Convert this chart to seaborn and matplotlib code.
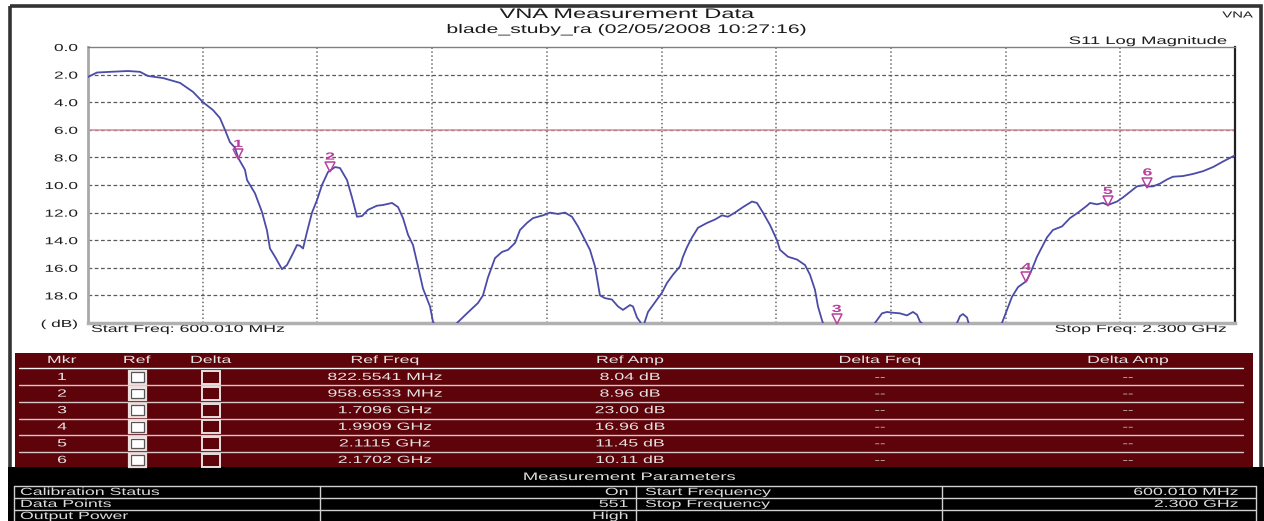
import matplotlib
matplotlib.use("Agg")
import matplotlib.pyplot as plt
import matplotlib.transforms as mtransforms
from matplotlib import patheffects as pe
from matplotlib.patches import Rectangle
import seaborn as sns

# ---------------- data ----------------
freq_mhz = [600.0, 613.3, 632.6, 659.3, 677.1, 688.9, 711.2, 736.4, 755.6, 770.4,
            785.3, 795.6, 803.0, 810.4, 817.9, 822.6, 832.7, 835.7, 847.5, 857.9,
            865.3, 869.7, 877.2, 887.5, 894.9, 902.3, 909.8, 914.2, 918.7, 924.6,
            932.0, 939.4, 946.8, 955.7, 958.7, 966.1, 973.5, 983.9, 991.3, 998.7,
            1006.1, 1015.0, 1028.3, 1037.2, 1050.6, 1059.5, 1066.9, 1074.3, 1081.7, 1089.1,
            1096.5, 1106.9, 1111.3, 1121.7, 1136.5, 1146.9, 1161.7, 1178.0, 1185.4, 1192.8,
            1203.2, 1213.6, 1222.5, 1232.9, 1240.3, 1250.6, 1259.5, 1274.4, 1284.7, 1296.6,
            1306.9, 1317.3, 1326.2, 1336.6, 1344.0, 1351.4, 1358.8, 1366.2, 1376.6, 1385.5,
            1392.9, 1403.3, 1407.7, 1413.7, 1418.1, 1422.6, 1430.0, 1440.3, 1450.7, 1458.1,
            1467.0, 1477.4, 1481.8, 1487.8, 1495.2, 1504.1, 1517.4, 1529.3, 1539.7, 1548.5,
            1558.9, 1570.8, 1584.1, 1591.5, 1600.4, 1610.8, 1621.2, 1625.6, 1637.5, 1650.8,
            1662.7, 1670.1, 1677.5, 1681.9, 1687.9, 1699.7, 1709.6, 1729.4, 1751.6, 1766.4,
            1776.8, 1784.2, 1791.6, 1803.5, 1813.8, 1822.7, 1828.7, 1833.1, 1855.3, 1877.6,
            1888.0, 1892.4, 1896.8, 1902.8, 1905.7, 1929.5, 1954.6, 1962.1, 1969.5, 1978.4,
            1990.9, 1999.1, 2006.5, 2013.9, 2021.3, 2030.2, 2043.6, 2055.4, 2067.3, 2080.6,
            2085.1, 2095.5, 2104.3, 2111.5, 2125.1, 2134.0, 2144.4, 2154.7, 2166.6, 2170.2,
            2178.4, 2188.8, 2199.2, 2208.0, 2222.9, 2237.7, 2252.5, 2267.4, 2282.2, 2300.0]

s11_db = [2.17, 1.85, 1.80, 1.74, 1.80, 2.10, 2.25, 2.60, 3.25, 4.00,
          4.57, 5.15, 6.00, 6.90, 7.30, 8.04, 8.90, 9.64, 10.6, 11.96,
          13.3, 14.6, 15.2, 16.1, 15.8, 15.1, 14.35, 14.4, 14.6, 13.4,
          12.0, 11.1, 10.0, 9.06, 8.96, 8.70, 8.77, 9.64, 10.9, 12.3,
          12.25, 11.8, 11.5, 11.45, 11.3, 11.6, 12.4, 13.6, 14.35, 15.9,
          17.5, 18.8, 19.9, 20.8, 20.6, 20.0, 19.3, 18.55, 18.0, 16.7,
          15.3, 14.85, 14.7, 14.2, 13.26, 12.75, 12.4, 12.2, 12.0, 12.1,
          12.0, 12.3, 13.0, 14.0, 14.7, 15.9, 18.0, 18.2, 18.3, 18.8,
          19.05, 18.7, 18.8, 19.6, 19.9, 20.3, 19.2, 18.5, 17.8, 17.1,
          16.5, 15.9, 15.2, 14.5, 13.8, 13.1, 12.75, 12.5, 12.2, 12.3,
          12.0, 11.6, 11.2, 11.3, 12.0, 12.9, 14.0, 14.7, 15.2, 15.4,
          15.8, 16.5, 17.6, 18.8, 19.8, 21.5, 23.0, 22.0, 20.8, 20.0,
          19.3, 19.2, 19.25, 19.3, 19.45, 19.2, 19.4, 19.9, 20.8, 20.5,
          20.0, 19.5, 19.35, 19.6, 20.1, 21.0, 20.0, 19.05, 18.1, 17.4,
          16.96, 16.1, 15.2, 14.5, 13.8, 13.26, 13.0, 12.4, 12.0, 11.5,
          11.3, 11.4, 11.3, 11.45, 11.2, 10.9, 10.5, 10.1, 10.0, 10.11,
          10.1, 9.9, 9.6, 9.4, 9.35, 9.2, 9.0, 8.7, 8.3, 7.85]

start_freq_mhz = 600.010
stop_freq_mhz = 2300.0
ref_line_db = 6.0
y_tick_values = [0, 2, 4, 6, 8, 10, 12, 14, 16, 18, 20]
y_tick_labels = ["0.0", "2.0", "4.0", "6.0", "8.0", "10.0", "12.0", "14.0",
                 "16.0", "18.0", "( dB)"]

marker_ids = ["1", "2", "3", "4", "5", "6"]
marker_freq_mhz = [822.5541, 958.6533, 1709.6, 1990.9, 2111.5, 2170.2]
marker_freq_text = ["822.5541 MHz", "958.6533 MHz", "1.7096 GHz", "1.9909 GHz",
                    "2.1115 GHz", "2.1702 GHz"]
marker_amp_db = [8.04, 8.96, 23.00, 16.96, 11.45, 10.11]
marker_amp_text = ["8.04 dB", "8.96 dB", "23.00 dB", "16.96 dB", "11.45 dB", "10.11 dB"]
delta_freq_text = ["--", "--", "--", "--", "--", "--"]
delta_amp_text = ["--", "--", "--", "--", "--", "--"]

table_headers = ["Mkr", "Ref", "Delta", "Ref Freq", "Ref Amp", "Delta Freq", "Delta Amp"]

param_left_labels = ["Calibration Status", "Data Points", "Output Power"]
param_left_values = ["On", "551", "High"]
param_right_labels = ["Start Frequency", "Stop Frequency", ""]
param_right_values = ["600.010 MHz", "2.300 GHz", ""]

title_text = "VNA Measurement Data"
subtitle_text = "blade_stuby_ra (02/05/2008 10:27:16)"
trace_text = "S11 Log Magnitude"

# ---------------- styling ----------------
sns.set_style("white")
plt.rcParams["font.family"] = ["Liberation Sans", "DejaVu Sans"]

SX = 1.7  # horizontal stretch of the screenshot text


class HStretch(pe.AbstractPathEffect):
    """Widen glyphs horizontally (the reference screenshot is stretched)."""

    def __init__(self, sx=1.7, anchor="left"):
        super().__init__()
        self.sx = sx
        self.anchor = anchor

    def draw_path(self, renderer, gc, tpath, affine, rgbFace=None):
        ext = tpath.get_extents()
        if self.anchor == "center":
            cx = 0.5 * (ext.x0 + ext.x1)
        elif self.anchor == "right":
            cx = ext.x1
        else:
            cx = 0.0
        pre = mtransforms.Affine2D().translate(-cx, 0).scale(self.sx, 1).translate(cx, 0)
        gc.set_snap(False)
        renderer.draw_path(gc, tpath, pre + affine, rgbFace)


W, H = 1264, 521
fig = plt.figure(figsize=(W / 100, H / 100), dpi=100)
fig.patch.set_facecolor("white")

bg = fig.add_axes([0, 0, 1, 1])
bg.set_xlim(0, W)
bg.set_ylim(H, 0)
bg.axis("off")
bg.set_zorder(0)


def put(x, y, s, size, ha="left", color="#1c1c1c", **kw):
    t = bg.text(x, y, s, fontsize=size, ha=ha, va="center", color=color, **kw)
    t.set_path_effects([HStretch(SX, ha)])
    return t


# outer frame
bg.add_patch(Rectangle((9.5, 6), 1251, 530, fill=False, ec="#333333", lw=2.6, zorder=1))

# header texts
put(627, 14, title_text, 10.0, ha="center")
put(627, 30, subtitle_text, 9.0, ha="center")
put(1253, 15, "VNA", 6.3, ha="right")
put(1228, 41, trace_text, 7.8, ha="right")
put(91, 329, "Start Freq: 600.010 MHz", 7.5, ha="left")
put(1226, 329, "Stop Freq: 2.300 GHz", 7.5, ha="right")

# ---------------- main plot ----------------
L, R, T, B = 88, 1235, 47, 323
ax = fig.add_axes([L / W, 1 - B / H, (R - L) / W, (B - T) / H])
ax.set_zorder(2)
ax.set_facecolor("white")

for k in range(1, 10):
    ax.axvline(start_freq_mhz + k * (stop_freq_mhz - start_freq_mhz) / 10,
               color="#6c6c6c", lw=1.1, ls=(0, (1, 1.6)), zorder=1)
for v in y_tick_values[1:-1]:
    ax.axhline(v, color="#5a5a5a", lw=0.9, ls=(0, (3, 2)), zorder=1)
ax.axhline(ref_line_db, color="#d38e9c", lw=1.1, zorder=2)

sns.lineplot(x=freq_mhz, y=s11_db, ax=ax, color="#4b4ba8", lw=1.3,
             estimator=None, sort=False, zorder=3)

ax.set_xlim(start_freq_mhz, stop_freq_mhz)
ax.set_ylim(20, 0)
ax.set_xticks([])
ax.set_yticks(y_tick_values)
ax.set_yticklabels(y_tick_labels)
ax.tick_params(axis="y", length=0, pad=7.5, labelsize=7.3, labelcolor="#1c1c1c")
ax.set_xlabel("")
ax.set_ylabel("")
for lbl in ax.get_yticklabels():
    lbl.set_path_effects([HStretch(SX, "right")])

ax.spines["left"].set_color("#a8a8a8")
ax.spines["left"].set_linewidth(2.0)
ax.spines["bottom"].set_color("#b0b0b0")
ax.spines["bottom"].set_linewidth(2.5)
ax.spines["top"].set_color("#808080")
ax.spines["top"].set_linewidth(1.0)
ax.spines["right"].set_color("#202020")
ax.spines["right"].set_linewidth(1.6)

# markers
mk_color = "#b8409c"
tri_tr = mtransforms.offset_copy(ax.transData, fig=fig, x=0, y=4, units="dots")
shown_amp = [min(a, 20.0) for a in marker_amp_db]
ax.plot(marker_freq_mhz, shown_amp, ls="none", marker="v", ms=7.5, mfc="none",
        mec=mk_color, mew=1.1, transform=tri_tr, clip_on=False, zorder=5)
for mid, f, a in zip(marker_ids, marker_freq_mhz, shown_amp):
    t = ax.annotate(mid, xy=(f, a), xytext=(0, 14), textcoords="offset pixels",
                    ha="center", va="center", fontsize=7.5, color=mk_color,
                    fontweight="bold", annotation_clip=False, zorder=6)
    t.set_path_effects([HStretch(SX, "center")])

# ---------------- marker table ----------------
maroon = "#5e0309"
tl, tr_, tt, tb = 15, 1253, 353, 467
bg.add_patch(Rectangle((tl, tt), tr_ - tl, tb - tt, fc=maroon, ec="none", zorder=1))
col_x = [62, 137, 211, 385, 630, 880, 1128]
light = "#e4e4e4"
for x, h in zip(col_x, table_headers):
    put(x, 360, h, 7.5, ha="center", color=light)
bg.plot([19, 1243], [368, 368], color="#f4f4f4", lw=1.0, zorder=2)

row_h = 16.6
for i, mid in enumerate(marker_ids):
    yc = 377 + i * row_h
    put(col_x[0], yc, mid, 7.5, ha="center", color=light)
    # Ref checkbox (white, with inner dark frame)
    bg.add_patch(Rectangle((col_x[1] - 8.5, yc - 6.5), 17, 13, fc="white", ec="#f3dede",
                           lw=1.6, zorder=3))
    bg.add_patch(Rectangle((col_x[1] - 6.5, yc - 4.8), 13, 9.6, fill=False, ec="#555555",
                           lw=0.9, zorder=4))
    # Delta checkbox (outline only)
    bg.add_patch(Rectangle((col_x[2] - 9, yc - 6.5), 18, 13, fc=maroon, ec="#e8e0e0",
                           lw=1.4, zorder=3))
    put(col_x[3], yc, marker_freq_text[i], 7.5, ha="center", color=light)
    put(col_x[4], yc, marker_amp_text[i], 7.5, ha="center", color=light)
    put(col_x[5], yc, delta_freq_text[i], 7.0, ha="center", color="#c8c8c8")
    put(col_x[6], yc, delta_amp_text[i], 7.0, ha="center", color="#c8c8c8")
    if i < len(marker_ids) - 1:
        bg.plot([19, 1243], [yc + 8.3, yc + 8.3], color="#d6c8c8", lw=1.0, zorder=2)

# ---------------- measurement parameters ----------------
bg.add_patch(Rectangle((8, 467), 1256, 60, fc="black", ec="none", zorder=1))
put(630, 477, "Measurement Parameters", 7.8, ha="center", color="#dcdcdc")
grid_c = "#cfcfcf"
for yy in [486, 498, 510]:
    bg.plot([14, 1256], [yy, yy], color=grid_c, lw=1.0, zorder=2)
for xx in [14, 320, 636, 942, 1256]:
    bg.plot([xx, xx], [486, 522], color=grid_c, lw=1.0, zorder=2)
for i in range(3):
    yc = 492 + i * 12
    put(20, yc, param_left_labels[i], 7.5, ha="left", color="#dcdcdc")
    put(628, yc, param_left_values[i], 7.5, ha="right", color="#dcdcdc")
    if param_right_labels[i]:
        put(645, yc, param_right_labels[i], 7.5, ha="left", color="#dcdcdc")
        put(1238, yc, param_right_values[i], 7.5, ha="right", color="#dcdcdc")

fig.savefig("out.png", dpi=100, facecolor="white")
